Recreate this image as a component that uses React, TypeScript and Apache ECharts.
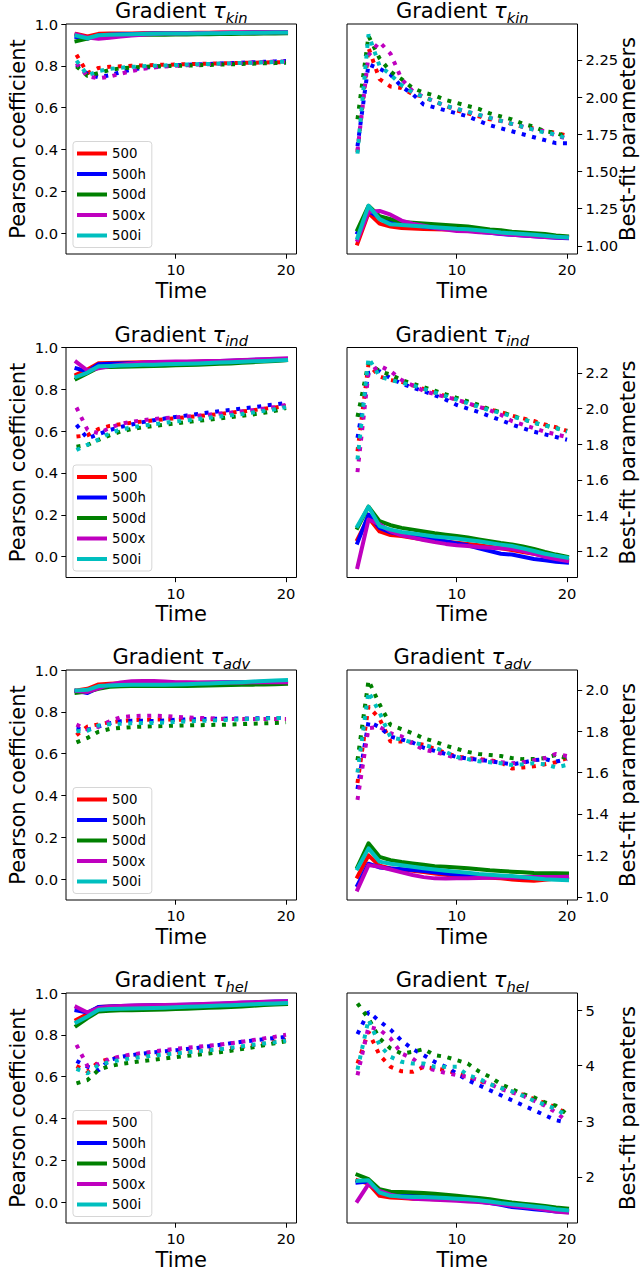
import React, { useEffect, useRef } from 'react';
import * as echarts from 'echarts';

// ---------------------------------------------------------------------------
// Data
// ---------------------------------------------------------------------------
const TIME = [1, 2, 3, 4, 5, 6, 7, 8, 9, 10, 11, 12, 13, 14, 15, 16, 17, 18, 19, 20];

const RUNS = ['500', '500h', '500d', '500x', '500i'];
const RUN_COLORS = ['#ff0000', '#0000ff', '#008000', '#bf00bf', '#00bfbf'];

const GRADIENTS = ['kin', 'ind', 'adv', 'hel'];

// Pearson coefficient, rows in RUNS order
const PEARSON_KIN_SOLID = [
  [0.952, 0.940, 0.953, 0.954, 0.955, 0.955, 0.956, 0.956, 0.957, 0.957, 0.957, 0.958, 0.958, 0.959, 0.959, 0.959, 0.960, 0.960, 0.961, 0.961],
  [0.938, 0.930, 0.946, 0.949, 0.951, 0.952, 0.953, 0.954, 0.955, 0.955, 0.956, 0.956, 0.957, 0.957, 0.958, 0.958, 0.959, 0.959, 0.960, 0.960],
  [0.918, 0.930, 0.940, 0.944, 0.946, 0.947, 0.948, 0.949, 0.949, 0.950, 0.950, 0.951, 0.951, 0.952, 0.952, 0.953, 0.953, 0.954, 0.954, 0.955],
  [0.950, 0.935, 0.930, 0.934, 0.940, 0.945, 0.949, 0.952, 0.954, 0.955, 0.956, 0.957, 0.957, 0.958, 0.958, 0.959, 0.959, 0.960, 0.960, 0.960],
  [0.944, 0.932, 0.946, 0.948, 0.950, 0.951, 0.952, 0.953, 0.954, 0.954, 0.955, 0.955, 0.956, 0.956, 0.957, 0.957, 0.958, 0.958, 0.959, 0.959],
];
const PEARSON_KIN_DOTTED = [
  [0.853, 0.765, 0.790, 0.795, 0.798, 0.800, 0.802, 0.804, 0.805, 0.806, 0.808, 0.809, 0.810, 0.812, 0.813, 0.814, 0.815, 0.816, 0.817, 0.818],
  [0.805, 0.760, 0.745, 0.755, 0.770, 0.782, 0.790, 0.795, 0.799, 0.802, 0.805, 0.807, 0.809, 0.811, 0.813, 0.815, 0.817, 0.819, 0.821, 0.823],
  [0.797, 0.752, 0.765, 0.780, 0.788, 0.792, 0.795, 0.797, 0.799, 0.800, 0.801, 0.803, 0.804, 0.806, 0.807, 0.809, 0.810, 0.812, 0.813, 0.815],
  [0.812, 0.750, 0.740, 0.748, 0.762, 0.775, 0.785, 0.792, 0.797, 0.800, 0.803, 0.806, 0.808, 0.810, 0.812, 0.814, 0.816, 0.818, 0.820, 0.821],
  [0.825, 0.755, 0.775, 0.785, 0.791, 0.795, 0.798, 0.800, 0.802, 0.804, 0.806, 0.808, 0.809, 0.811, 0.812, 0.814, 0.815, 0.817, 0.818, 0.820],
];

const PEARSON_IND_SOLID = [
  [0.870, 0.895, 0.925, 0.926, 0.927, 0.928, 0.929, 0.930, 0.930, 0.931, 0.931, 0.932, 0.933, 0.934, 0.935, 0.936, 0.937, 0.938, 0.939, 0.940],
  [0.900, 0.885, 0.920, 0.922, 0.924, 0.925, 0.926, 0.927, 0.928, 0.929, 0.930, 0.931, 0.933, 0.935, 0.937, 0.939, 0.941, 0.943, 0.944, 0.945],
  [0.850, 0.877, 0.905, 0.907, 0.908, 0.909, 0.910, 0.912, 0.913, 0.915, 0.916, 0.918, 0.920, 0.922, 0.924, 0.927, 0.930, 0.933, 0.936, 0.940],
  [0.930, 0.890, 0.900, 0.910, 0.918, 0.924, 0.928, 0.931, 0.932, 0.933, 0.933, 0.934, 0.935, 0.936, 0.938, 0.940, 0.942, 0.944, 0.946, 0.948],
  [0.860, 0.880, 0.910, 0.912, 0.914, 0.915, 0.917, 0.918, 0.920, 0.921, 0.922, 0.924, 0.926, 0.928, 0.930, 0.932, 0.934, 0.936, 0.938, 0.940],
];
const PEARSON_IND_DOTTED = [
  [0.574, 0.580, 0.610, 0.625, 0.633, 0.640, 0.646, 0.652, 0.657, 0.662, 0.667, 0.672, 0.677, 0.682, 0.688, 0.694, 0.700, 0.707, 0.713, 0.720],
  [0.630, 0.565, 0.585, 0.605, 0.620, 0.632, 0.643, 0.652, 0.660, 0.668, 0.675, 0.682, 0.689, 0.696, 0.702, 0.708, 0.714, 0.721, 0.728, 0.735],
  [0.526, 0.534, 0.558, 0.580, 0.598, 0.610, 0.618, 0.625, 0.631, 0.637, 0.643, 0.649, 0.655, 0.661, 0.667, 0.673, 0.680, 0.688, 0.697, 0.710],
  [0.713, 0.606, 0.590, 0.615, 0.635, 0.645, 0.652, 0.658, 0.663, 0.666, 0.670, 0.674, 0.679, 0.684, 0.689, 0.695, 0.701, 0.708, 0.716, 0.725],
  [0.510, 0.535, 0.560, 0.590, 0.608, 0.618, 0.626, 0.633, 0.640, 0.646, 0.652, 0.658, 0.664, 0.670, 0.676, 0.682, 0.689, 0.697, 0.705, 0.715],
];

const PEARSON_ADV_SOLID = [
  [0.902, 0.910, 0.931, 0.934, 0.937, 0.939, 0.940, 0.940, 0.940, 0.939, 0.939, 0.939, 0.939, 0.939, 0.940, 0.940, 0.940, 0.941, 0.941, 0.942],
  [0.900, 0.890, 0.915, 0.928, 0.933, 0.936, 0.937, 0.937, 0.937, 0.936, 0.937, 0.938, 0.939, 0.940, 0.941, 0.942, 0.943, 0.944, 0.946, 0.947],
  [0.891, 0.897, 0.910, 0.920, 0.922, 0.923, 0.923, 0.923, 0.923, 0.923, 0.924, 0.925, 0.926, 0.927, 0.928, 0.929, 0.930, 0.931, 0.932, 0.934],
  [0.900, 0.895, 0.912, 0.930, 0.940, 0.946, 0.947, 0.947, 0.945, 0.942, 0.941, 0.940, 0.940, 0.940, 0.940, 0.940, 0.941, 0.941, 0.942, 0.942],
  [0.902, 0.905, 0.923, 0.926, 0.928, 0.929, 0.930, 0.930, 0.930, 0.931, 0.932, 0.934, 0.936, 0.938, 0.940, 0.942, 0.945, 0.947, 0.950, 0.952],
];
const PEARSON_ADV_DOTTED = [
  [0.688, 0.730, 0.740, 0.750, 0.755, 0.760, 0.762, 0.763, 0.763, 0.762, 0.763, 0.764, 0.765, 0.765, 0.766, 0.766, 0.766, 0.766, 0.766, 0.766],
  [0.720, 0.715, 0.730, 0.745, 0.755, 0.757, 0.757, 0.756, 0.758, 0.762, 0.764, 0.765, 0.766, 0.767, 0.768, 0.768, 0.769, 0.770, 0.771, 0.770],
  [0.654, 0.675, 0.705, 0.718, 0.723, 0.727, 0.729, 0.731, 0.732, 0.734, 0.735, 0.736, 0.737, 0.738, 0.739, 0.741, 0.743, 0.745, 0.747, 0.750],
  [0.739, 0.715, 0.730, 0.755, 0.774, 0.779, 0.781, 0.782, 0.780, 0.776, 0.773, 0.771, 0.769, 0.767, 0.766, 0.765, 0.765, 0.766, 0.766, 0.766],
  [0.707, 0.710, 0.735, 0.740, 0.743, 0.745, 0.746, 0.747, 0.749, 0.752, 0.754, 0.756, 0.758, 0.760, 0.762, 0.764, 0.766, 0.768, 0.770, 0.771],
];

const PEARSON_HEL_SOLID = [
  [0.872, 0.900, 0.933, 0.935, 0.937, 0.938, 0.939, 0.940, 0.941, 0.942, 0.943, 0.944, 0.945, 0.946, 0.947, 0.948, 0.950, 0.952, 0.954, 0.956],
  [0.917, 0.907, 0.933, 0.936, 0.938, 0.939, 0.940, 0.941, 0.942, 0.943, 0.944, 0.945, 0.947, 0.949, 0.951, 0.953, 0.955, 0.957, 0.959, 0.960],
  [0.843, 0.880, 0.912, 0.915, 0.917, 0.918, 0.919, 0.920, 0.921, 0.923, 0.925, 0.927, 0.929, 0.931, 0.933, 0.936, 0.939, 0.942, 0.945, 0.947],
  [0.933, 0.907, 0.928, 0.934, 0.938, 0.940, 0.941, 0.942, 0.943, 0.944, 0.945, 0.946, 0.948, 0.950, 0.952, 0.954, 0.956, 0.958, 0.959, 0.960],
  [0.860, 0.888, 0.920, 0.923, 0.925, 0.926, 0.927, 0.928, 0.930, 0.932, 0.934, 0.936, 0.938, 0.940, 0.942, 0.944, 0.946, 0.948, 0.950, 0.952],
];
const PEARSON_HEL_DOTTED = [
  [0.650, 0.625, 0.669, 0.685, 0.693, 0.700, 0.705, 0.709, 0.712, 0.715, 0.719, 0.723, 0.727, 0.731, 0.736, 0.741, 0.750, 0.758, 0.767, 0.776],
  [0.675, 0.648, 0.630, 0.680, 0.694, 0.703, 0.710, 0.716, 0.721, 0.726, 0.732, 0.738, 0.745, 0.752, 0.760, 0.767, 0.773, 0.779, 0.785, 0.790],
  [0.568, 0.584, 0.632, 0.650, 0.660, 0.668, 0.675, 0.681, 0.687, 0.693, 0.699, 0.705, 0.711, 0.717, 0.724, 0.732, 0.740, 0.750, 0.760, 0.770],
  [0.752, 0.651, 0.660, 0.685, 0.697, 0.706, 0.713, 0.720, 0.727, 0.733, 0.738, 0.743, 0.748, 0.753, 0.760, 0.767, 0.775, 0.783, 0.791, 0.800],
  [0.637, 0.616, 0.656, 0.670, 0.680, 0.688, 0.695, 0.701, 0.706, 0.711, 0.716, 0.721, 0.726, 0.731, 0.738, 0.745, 0.752, 0.759, 0.765, 0.772],
];

// Best-fit parameters, rows in RUNS order
const FIT_KIN_SOLID = [
  [1.016, 1.220, 1.150, 1.130, 1.120, 1.117, 1.114, 1.112, 1.110, 1.110, 1.105, 1.100, 1.095, 1.090, 1.085, 1.080, 1.075, 1.070, 1.065, 1.060],
  [1.090, 1.235, 1.190, 1.170, 1.150, 1.140, 1.130, 1.120, 1.115, 1.110, 1.105, 1.095, 1.088, 1.080, 1.075, 1.070, 1.065, 1.060, 1.055, 1.052],
  [1.110, 1.270, 1.200, 1.180, 1.160, 1.155, 1.150, 1.145, 1.140, 1.135, 1.130, 1.120, 1.110, 1.105, 1.095, 1.090, 1.085, 1.080, 1.070, 1.065],
  [1.040, 1.230, 1.235, 1.210, 1.170, 1.150, 1.135, 1.120, 1.110, 1.100, 1.098, 1.092, 1.088, 1.082, 1.075, 1.070, 1.065, 1.060, 1.057, 1.055],
  [1.055, 1.270, 1.180, 1.145, 1.140, 1.135, 1.130, 1.125, 1.120, 1.115, 1.112, 1.105, 1.098, 1.090, 1.085, 1.080, 1.075, 1.068, 1.062, 1.058],
];
const FIT_KIN_DOTTED = [
  [1.630, 2.330, 2.120, 2.070, 2.060, 2.020, 2.000, 1.970, 1.940, 1.910, 1.890, 1.870, 1.850, 1.840, 1.820, 1.800, 1.790, 1.770, 1.760, 1.740],
  [1.670, 2.220, 2.190, 2.150, 2.070, 2.020, 1.950, 1.930, 1.910, 1.890, 1.870, 1.840, 1.810, 1.790, 1.770, 1.750, 1.730, 1.710, 1.690, 1.690],
  [1.850, 2.410, 2.260, 2.170, 2.120, 2.060, 2.030, 2.010, 1.980, 1.960, 1.940, 1.920, 1.890, 1.870, 1.850, 1.820, 1.800, 1.770, 1.760, 1.730],
  [1.640, 2.280, 2.370, 2.290, 2.120, 2.040, 2.000, 1.970, 1.940, 1.920, 1.900, 1.880, 1.860, 1.840, 1.820, 1.800, 1.780, 1.770, 1.740, 1.720],
  [1.620, 2.420, 2.210, 2.150, 2.080, 2.030, 2.000, 1.970, 1.940, 1.920, 1.900, 1.880, 1.860, 1.840, 1.820, 1.800, 1.780, 1.760, 1.750, 1.720],
];

const FIT_IND_SOLID = [
  [1.265, 1.387, 1.310, 1.290, 1.284, 1.275, 1.265, 1.258, 1.252, 1.247, 1.240, 1.232, 1.224, 1.216, 1.205, 1.195, 1.185, 1.172, 1.160, 1.150],
  [1.247, 1.405, 1.330, 1.305, 1.293, 1.283, 1.275, 1.265, 1.255, 1.243, 1.232, 1.215, 1.200, 1.185, 1.180, 1.168, 1.155, 1.148, 1.140, 1.135],
  [1.330, 1.449, 1.368, 1.345, 1.330, 1.320, 1.310, 1.300, 1.292, 1.284, 1.276, 1.265, 1.255, 1.245, 1.237, 1.225, 1.212, 1.195, 1.180, 1.168],
  [1.110, 1.377, 1.350, 1.310, 1.288, 1.275, 1.262, 1.250, 1.240, 1.232, 1.228, 1.222, 1.218, 1.215, 1.213, 1.200, 1.185, 1.168, 1.155, 1.144],
  [1.340, 1.449, 1.340, 1.320, 1.307, 1.298, 1.290, 1.282, 1.276, 1.270, 1.262, 1.255, 1.245, 1.236, 1.228, 1.215, 1.200, 1.185, 1.173, 1.163],
];
const FIT_IND_DOTTED = [
  [1.760, 2.250, 2.180, 2.160, 2.150, 2.130, 2.110, 2.090, 2.070, 2.050, 2.030, 2.010, 1.995, 1.980, 1.960, 1.945, 1.930, 1.910, 1.895, 1.875],
  [1.835, 2.200, 2.210, 2.170, 2.140, 2.118, 2.097, 2.075, 2.050, 2.020, 2.000, 1.980, 1.957, 1.935, 1.910, 1.890, 1.870, 1.855, 1.840, 1.825],
  [1.953, 2.256, 2.210, 2.190, 2.160, 2.140, 2.120, 2.100, 2.080, 2.060, 2.040, 2.020, 1.995, 1.980, 1.960, 1.940, 1.920, 1.905, 1.890, 1.875],
  [1.643, 2.200, 2.240, 2.210, 2.160, 2.130, 2.100, 2.080, 2.065, 2.050, 2.030, 2.010, 1.990, 1.965, 1.930, 1.910, 1.890, 1.870, 1.855, 1.840],
  [1.714, 2.284, 2.180, 2.160, 2.145, 2.130, 2.110, 2.090, 2.070, 2.050, 2.030, 2.010, 1.990, 1.975, 1.955, 1.940, 1.920, 1.905, 1.890, 1.870],
];

const FIT_ADV_SOLID = [
  [1.097, 1.200, 1.150, 1.137, 1.132, 1.126, 1.120, 1.113, 1.106, 1.100, 1.097, 1.094, 1.092, 1.089, 1.084, 1.080, 1.077, 1.082, 1.088, 1.094],
  [1.056, 1.160, 1.142, 1.137, 1.133, 1.129, 1.124, 1.118, 1.113, 1.108, 1.104, 1.100, 1.098, 1.096, 1.094, 1.093, 1.092, 1.091, 1.090, 1.089],
  [1.145, 1.258, 1.193, 1.177, 1.168, 1.161, 1.155, 1.148, 1.145, 1.142, 1.138, 1.133, 1.128, 1.125, 1.121, 1.118, 1.115, 1.114, 1.114, 1.113],
  [1.035, 1.153, 1.145, 1.132, 1.118, 1.105, 1.095, 1.089, 1.088, 1.089, 1.090, 1.091, 1.092, 1.093, 1.094, 1.094, 1.095, 1.096, 1.096, 1.097],
  [1.137, 1.234, 1.170, 1.160, 1.152, 1.145, 1.138, 1.132, 1.126, 1.121, 1.116, 1.110, 1.106, 1.103, 1.100, 1.095, 1.090, 1.085, 1.082, 1.080],
];
const FIT_ADV_DOTTED = [
  [1.550, 1.920, 1.860, 1.750, 1.750, 1.745, 1.734, 1.715, 1.695, 1.677, 1.670, 1.665, 1.660, 1.650, 1.620, 1.625, 1.630, 1.640, 1.650, 1.670],
  [1.520, 1.845, 1.820, 1.774, 1.760, 1.745, 1.720, 1.705, 1.690, 1.675, 1.668, 1.662, 1.655, 1.648, 1.640, 1.648, 1.660, 1.665, 1.653, 1.665],
  [1.660, 2.045, 1.930, 1.830, 1.810, 1.790, 1.766, 1.750, 1.730, 1.715, 1.700, 1.690, 1.685, 1.680, 1.670, 1.665, 1.665, 1.670, 1.685, 1.670],
  [1.468, 1.815, 1.820, 1.790, 1.775, 1.740, 1.710, 1.700, 1.685, 1.670, 1.665, 1.660, 1.655, 1.650, 1.645, 1.650, 1.660, 1.670, 1.690, 1.680],
  [1.600, 1.990, 1.890, 1.770, 1.760, 1.745, 1.734, 1.720, 1.700, 1.675, 1.665, 1.655, 1.650, 1.645, 1.637, 1.640, 1.645, 1.640, 1.625, 1.637],
];

const FIT_HEL_SOLID = [
  [1.94, 1.88, 1.66, 1.63, 1.62, 1.61, 1.61, 1.60, 1.60, 1.59, 1.58, 1.57, 1.55, 1.53, 1.51, 1.49, 1.47, 1.44, 1.42, 1.39],
  [1.90, 1.92, 1.72, 1.69, 1.68, 1.67, 1.66, 1.64, 1.62, 1.60, 1.59, 1.56, 1.53, 1.50, 1.46, 1.44, 1.42, 1.40, 1.38, 1.37],
  [2.04, 1.96, 1.78, 1.735, 1.73, 1.72, 1.71, 1.70, 1.68, 1.66, 1.64, 1.62, 1.60, 1.57, 1.54, 1.52, 1.50, 1.48, 1.45, 1.43],
  [1.57, 1.87, 1.75, 1.68, 1.64, 1.61, 1.60, 1.59, 1.58, 1.57, 1.56, 1.55, 1.53, 1.51, 1.48, 1.46, 1.44, 1.41, 1.38, 1.36],
  [1.93, 1.94, 1.72, 1.66, 1.65, 1.64, 1.64, 1.63, 1.62, 1.61, 1.60, 1.58, 1.56, 1.53, 1.51, 1.49, 1.47, 1.45, 1.42, 1.40],
];
const FIT_HEL_DOTTED = [
  [4.04, 4.61, 4.19, 3.98, 3.90, 3.89, 3.98, 3.95, 3.92, 3.86, 3.80, 3.73, 3.67, 3.61, 3.54, 3.48, 3.40, 3.33, 3.25, 3.14],
  [4.57, 4.97, 4.80, 4.65, 4.45, 4.30, 4.19, 4.07, 3.98, 3.86, 3.74, 3.65, 3.56, 3.47, 3.38, 3.29, 3.20, 3.11, 3.02, 2.98],
  [5.12, 4.85, 4.49, 4.31, 4.22, 4.25, 4.30, 4.19, 4.16, 4.10, 4.04, 3.90, 3.80, 3.67, 3.58, 3.49, 3.43, 3.34, 3.28, 3.13],
  [3.83, 4.70, 4.65, 4.49, 4.22, 4.13, 3.98, 3.92, 3.87, 3.83, 3.80, 3.74, 3.67, 3.58, 3.52, 3.46, 3.37, 3.28, 3.16, 3.00],
  [3.93, 4.83, 4.37, 4.16, 4.07, 4.04, 4.04, 3.98, 3.98, 3.98, 3.83, 3.77, 3.67, 3.60, 3.54, 3.46, 3.37, 3.30, 3.22, 3.10],
];

// Tick values
const X_TICKS = [10, 20];
const PEARSON_TICKS = [0.0, 0.2, 0.4, 0.6, 0.8, 1.0];
const PEARSON_RANGE = [-0.1, 1.0];
const FIT_TICKS = [
  [1.0, 1.25, 1.5, 1.75, 2.0, 2.25],
  [1.2, 1.4, 1.6, 1.8, 2.0, 2.2],
  [1.0, 1.2, 1.4, 1.6, 1.8, 2.0],
  [2, 3, 4, 5],
];
const FIT_TICK_DECIMALS = [2, 1, 1, 0];

const PEARSON_SETS = [
  [PEARSON_KIN_SOLID, PEARSON_KIN_DOTTED],
  [PEARSON_IND_SOLID, PEARSON_IND_DOTTED],
  [PEARSON_ADV_SOLID, PEARSON_ADV_DOTTED],
  [PEARSON_HEL_SOLID, PEARSON_HEL_DOTTED],
];
const FIT_SETS = [
  [FIT_KIN_SOLID, FIT_KIN_DOTTED],
  [FIT_IND_SOLID, FIT_IND_DOTTED],
  [FIT_ADV_SOLID, FIT_ADV_DOTTED],
  [FIT_HEL_SOLID, FIT_HEL_DOTTED],
];

// ---------------------------------------------------------------------------
// Layout & style
// ---------------------------------------------------------------------------
const FONT = 'DejaVu Sans';
const ROW_TOP = [24, 347.5, 670, 993];
const COL_LEFT = [66, 347];
const PLOT_W = 230.5;
const PLOT_H = 230;
const LINE_W = 4;
const DOT_PATTERN = [4, 6.6];

// 5% padding on each side of the data span, like an autoscaled axis
function autoRange(values: number[]): [number, number] {
  const lo = Math.min(...values);
  const hi = Math.max(...values);
  const pad = (hi - lo) * 0.05;
  return [lo - pad, hi + pad];
}

function buildOption() {
  const grids: any[] = [];
  const xAxes: any[] = [];
  const yAxes: any[] = [];
  const titles: any[] = [];
  const legends: any[] = [];
  const series: any[] = [];

  const [xMin, xMax] = autoRange(TIME);

  const tickStyle = { show: true, inside: false, length: 4.7, lineStyle: { color: '#000', width: 1 } };
  const labelStyle = { fontFamily: FONT, fontSize: 14.7, color: '#000' };

  for (let row = 0; row < 4; row++) {
    for (let col = 0; col < 2; col++) {
      const p = row * 2 + col;
      const left = COL_LEFT[col];
      const top = ROW_TOP[row];

      grids.push({
        left,
        top,
        width: PLOT_W,
        height: PLOT_H,
        show: true,
        borderColor: '#000',
        borderWidth: 1,
        backgroundColor: 'transparent',
        containLabel: false,
        outerBoundsMode: 'none',
      });

      xAxes.push({
        type: 'value',
        gridIndex: p,
        position: 'bottom',
        min: xMin,
        max: xMax,
        name: 'Time',
        nameLocation: 'middle',
        nameGap: 26,
        nameMoveOverlap: false,
        nameTextStyle: { fontFamily: FONT, fontSize: 21, color: '#000' },
        axisLine: { show: false, onZero: false },
        axisTick: { ...tickStyle, customValues: X_TICKS },
        axisLabel: { ...labelStyle, margin: 8, customValues: X_TICKS, formatter: (v: number) => String(v) },
        splitLine: { show: false },
      });

      const sets = col === 0 ? PEARSON_SETS[row] : FIT_SETS[row];
      let yMin: number;
      let yMax: number;
      let ticks: number[];
      let decimals: number;
      if (col === 0) {
        [yMin, yMax] = PEARSON_RANGE;
        ticks = PEARSON_TICKS;
        decimals = 1;
      } else {
        [yMin, yMax] = autoRange(sets.flat(2));
        ticks = FIT_TICKS[row];
        decimals = FIT_TICK_DECIMALS[row];
      }

      yAxes.push({
        type: 'value',
        gridIndex: p,
        position: col === 0 ? 'left' : 'right',
        min: yMin,
        max: yMax,
        name: col === 0 ? 'Pearson coefficient' : 'Best-fit parameters',
        nameLocation: 'middle',
        nameRotate: 90,
        nameGap: col === 0 ? 38 : 40,
        nameMoveOverlap: false,
        nameTextStyle: { fontFamily: FONT, fontSize: 21, color: '#000' },
        axisLine: { show: false, onZero: false },
        axisTick: { ...tickStyle, customValues: ticks },
        axisLabel: { ...labelStyle, margin: 8, customValues: ticks, formatter: (v: number) => v.toFixed(decimals) },
        splitLine: { show: false },
      });

      titles.push({
        text: `{m|Gradient }{t|τ}{s|${GRADIENTS[row]}}`,
        left: left + PLOT_W / 2,
        top: top - 23.5,
        textAlign: 'center',
        padding: 0,
        textStyle: {
          fontFamily: FONT,
          fontWeight: 'normal',
          color: '#000',
          rich: {
            m: { fontFamily: FONT, fontSize: 21, fontWeight: 'normal', color: '#000', lineHeight: 24, verticalAlign: 'top' },
            t: { fontFamily: FONT, fontSize: 21, fontStyle: 'italic', fontWeight: 'normal', color: '#000', lineHeight: 24, verticalAlign: 'top' },
            s: { fontFamily: FONT, fontSize: 14.7, fontStyle: 'italic', fontWeight: 'normal', color: '#000', lineHeight: 15, verticalAlign: 'bottom' },
          },
        },
      });

      const [solid, dotted] = sets;
      RUNS.forEach((run, k) => {
        series.push({
          type: 'line',
          name: run,
          xAxisIndex: p,
          yAxisIndex: p,
          data: TIME.map((t, i) => [t, solid[k][i]]),
          symbol: 'none',
          showSymbol: false,
          color: RUN_COLORS[k],
          lineStyle: { width: LINE_W, color: RUN_COLORS[k], type: 'solid', join: 'round', cap: 'square' },
          emphasis: { disabled: true },
          z: 2,
        });
      });
      RUNS.forEach((run, k) => {
        series.push({
          type: 'line',
          name: `${run} dotted`,
          xAxisIndex: p,
          yAxisIndex: p,
          data: TIME.map((t, i) => [t, dotted[k][i]]),
          symbol: 'none',
          showSymbol: false,
          color: RUN_COLORS[k],
          lineStyle: { width: LINE_W, color: RUN_COLORS[k], type: DOT_PATTERN, dashOffset: 0, cap: 'butt' },
          emphasis: { disabled: true },
          z: 2,
        });
      });
    }

    // Legend sits in the lower-left corner of the left-hand panel
    legends.push({
      data: RUNS,
      orient: 'vertical',
      left: COL_LEFT[0] + 7,
      top: ROW_TOP[row] + PLOT_H - 6.5 - 106,
      icon: 'rect',
      itemWidth: 30,
      itemHeight: 4,
      itemGap: 6.5,
      itemTextGap: 11,
      padding: [5, 6, 5, 4],
      backgroundColor: '#fff',
      borderColor: 'rgba(204,204,204,0.8)',
      borderWidth: 1,
      borderRadius: 3,
      selectedMode: false,
      itemStyle: { borderWidth: 0 },
      textStyle: { fontFamily: FONT, fontSize: 13.3, color: '#000', lineHeight: 14 },
      z: 5,
    });
  }

  return {
    animation: false,
    backgroundColor: '#ffffff',
    textStyle: { fontFamily: FONT },
    title: titles,
    legend: legends,
    grid: grids,
    xAxis: xAxes,
    yAxis: yAxes,
    series,
  };
}

export default function App() {
  const ref = useRef<HTMLDivElement>(null);

  useEffect(() => {
    if (!ref.current) return;
    const chart = echarts.init(ref.current, undefined, { renderer: 'svg' });
    chart.setOption(buildOption());
    return () => {
      chart.dispose();
    };
  }, []);

  return (
    <div
      ref={ref}
      style={{ position: 'absolute', left: 0, top: 0, width: 641, height: 1273, background: '#fff' }}
    />
  );
}
